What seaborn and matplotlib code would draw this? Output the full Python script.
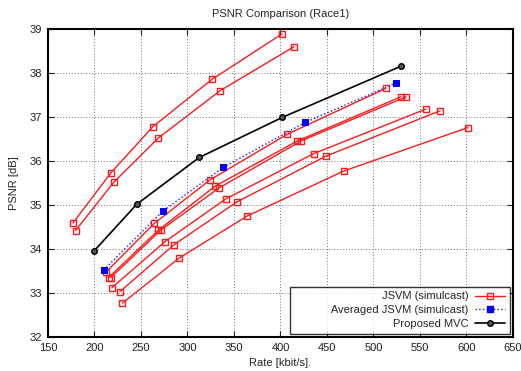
import numpy as np
import pandas as pd
import matplotlib
matplotlib.use('Agg')
from matplotlib import pyplot as plt
from matplotlib.lines import Line2D
import seaborn as sns

# JSVM simulcast, one curve per view (rate kbit/s, PSNR dB)
jsvm_rate = [
    [176.8, 217.6, 262.8, 326.6, 401.8],
    [179.6, 220.9, 268.5, 335.2, 414.7],
    [212.6, 264.2, 324.1, 407.5, 513.2],
    [215.1, 268.8, 329.8, 417.6, 529.5],
    [217.6, 271.3, 334.1, 422.5, 535.2],
    [218.7, 276.0, 341.3, 435.9, 556.4],
    [227.3, 285.7, 353.1, 448.8, 571.4],
    [230.1, 291.4, 364.2, 467.8, 601.5],
]
jsvm_psnr = [
    [34.59, 35.73, 36.78, 37.86, 38.89],
    [34.42, 35.52, 36.52, 37.60, 38.60],
    [33.48, 34.58, 35.57, 36.61, 37.65],
    [33.35, 34.43, 35.43, 36.45, 37.46],
    [33.35, 34.43, 35.39, 36.46, 37.46],
    [33.12, 34.17, 35.14, 36.17, 37.18],
    [33.03, 34.10, 35.07, 36.11, 37.14],
    [32.77, 33.80, 34.75, 35.77, 36.76],
]

avg_rate = [209.7, 273.4, 338.7, 426.9, 523.8]
avg_psnr = [33.52, 34.86, 35.86, 36.88, 37.77]

mvc_rate = [199.7, 245.6, 312.6, 401.8, 530.1]
mvc_psnr = [33.96, 35.02, 36.08, 36.99, 38.16]

sns.set_style('ticks')
plt.rcParams['font.family'] = ['Liberation Sans', 'DejaVu Sans']

fig = plt.figure(figsize=(5.21, 3.71), dpi=100)
ax = fig.add_axes([0.0921, 0.0916, 0.8925, 0.8302])

for r, p in zip(jsvm_rate, jsvm_psnr):
    df = pd.DataFrame({'rate': r, 'psnr': p})
    sns.lineplot(data=df, x='rate', y='psnr', ax=ax, sort=False, estimator=None,
                 color='#ff1a1a', linewidth=1, marker='s', markersize=5,
                 markerfacecolor='none', markeredgecolor='#ff1a1a',
                 markeredgewidth=1, legend=False)

df = pd.DataFrame({'rate': avg_rate, 'psnr': avg_psnr})
sns.lineplot(data=df, x='rate', y='psnr', ax=ax, sort=False, estimator=None,
             color='#1a1aff', linewidth=1, linestyle=':', marker='s', markersize=5,
             markerfacecolor='#0000ff', markeredgecolor='#0000ff', legend=False)

df = pd.DataFrame({'rate': mvc_rate, 'psnr': mvc_psnr})
sns.lineplot(data=df, x='rate', y='psnr', ax=ax, sort=False, estimator=None,
             color='black', linewidth=1.2, marker='o', markersize=4,
             markerfacecolor='#555555', markeredgecolor='black',
             markeredgewidth=1, legend=False)

ax.set_xlim(150, 650)
ax.set_ylim(32, 39)
ax.set_xticks(np.arange(150, 651, 50))
ax.set_yticks(np.arange(32, 40, 1))
ax.grid(True, linestyle=(0, (1, 2)), color='#777777', linewidth=0.7)
ax.tick_params(direction='in', length=4, top=True, right=True,
               labelsize=8, colors='#222222', pad=4)
for s in ax.spines.values():
    s.set_linewidth(1.5)
    s.set_color('black')

ax.set_title('PSNR Comparison (Race1)', fontsize=8, pad=9)
ax.set_xlabel('Rate [kbit/s].', fontsize=8, labelpad=4)
ax.set_ylabel('PSNR [dB]', fontsize=8, labelpad=8)

handles = [
    Line2D([], [], color='#ff1a1a', linewidth=1, marker='s', markersize=5,
           markerfacecolor='none', markeredgecolor='#ff1a1a'),
    Line2D([], [], color='#1a1aff', linewidth=1, linestyle=':', marker='s',
           markersize=5, markerfacecolor='#0000ff', markeredgecolor='#0000ff'),
    Line2D([], [], color='black', linewidth=1.2, marker='o', markersize=4,
           markerfacecolor='#555555', markeredgecolor='black'),
]
labels = ['JSVM (simulcast)', '            Averaged JSVM (simulcast)', 'Proposed MVC']
leg = ax.legend(handles, labels, loc='lower right', markerfirst=False,
                alignment='right', fontsize=8, frameon=True, fancybox=False,
                handlelength=2.7, handletextpad=0.6, borderpad=0.4,
                labelspacing=0.35, borderaxespad=0.3)
leg.get_frame().set_edgecolor('black')
leg.get_frame().set_linewidth(1)

fig.savefig('out.png', dpi=100)
